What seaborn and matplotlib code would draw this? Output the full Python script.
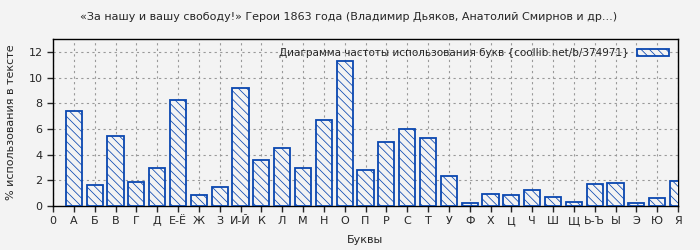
import matplotlib
matplotlib.use("Agg")
import matplotlib.pyplot as plt
import seaborn as sns
import pandas as pd

letters = ["А", "Б", "В", "Г", "Д", "Е-Ё", "Ж", "З", "И-Й", "К", "Л", "М", "Н", "О", "П",
           "Р", "С", "Т", "У", "Ф", "Х", "Ц", "Ч", "Ш", "Щ", "Ь-Ъ", "Ы", "Э", "Ю", "Я"]
values = [7.38, 1.61, 5.43, 1.87, 2.94, 8.23, 0.83, 1.45, 9.19, 3.56, 4.49, 2.94, 6.68, 11.27, 2.78,
          4.96, 5.97, 5.27, 2.31, 0.21, 0.91, 0.83, 1.22, 0.68, 0.29, 1.69, 1.77, 0.21, 0.60, 1.92]
tick_labels = ["0"] + letters
title = "«За нашу и вашу свободу!» Герои 1863 года (Владимир Дьяков, Анатолий Смирнов и др...)"
legend_label = "Диаграмма частоты использования букв {coollib.net/b/374971}"

sns.set_theme(style="white")
plt.rcParams['font.family'] = ['DejaVu Sans']
bg = "#f3f3f3"
blue = "#0a47b0"
plt.rcParams['hatch.linewidth'] = 0.55
hatch = "\\\\\\\\"

df = pd.DataFrame({"pos": list(range(1, len(letters) + 1)), "val": values})

fig = plt.figure(figsize=(7, 2.5), dpi=100, facecolor=bg)
ax = fig.add_axes([53/700, 44/250, 625/700, 167/250])
ax.set_facecolor(bg)

sns.barplot(data=df, x="pos", y="val", native_scale=True, width=0.77, ax=ax,
            color=bg, edgecolor=blue, linewidth=1.3, hatch=hatch, label=legend_label,
            err_kws={"linewidth": 0})
for p in ax.patches:
    p.set_facecolor(bg)
    p.set_edgecolor(blue)
    p.set_hatch(hatch)
    p.set_zorder(3)

ax.set_xlim(0, 30)
ax.set_ylim(0, 13)
ax.set_xticks(range(0, 31))
ax.set_xticklabels(tick_labels, fontsize=8)
ax.set_yticks(range(0, 13, 2))
ax.tick_params(axis="y", labelsize=8, direction="out", length=4, width=1, left=True)
ax.tick_params(axis="x", direction="out", length=4, width=1, bottom=True)
ax.grid(True, color="#999999", linestyle=(0, (2, 3)), linewidth=0.8, zorder=0)
ax.set_axisbelow(True)
for s in ax.spines.values():
    s.set_color("black")
    s.set_linewidth(1.0)

ax.set_xlabel("Буквы", fontsize=8, va="center")
ax.set_ylabel("% использования в тексте", fontsize=8, va="center")
ax.yaxis.set_label_coords(-0.068, 0.5)
ax.xaxis.set_label_coords(0.5, -0.204)
fig.suptitle(title, fontsize=8, x=349/700, y=1 - 17/250, va="center")

leg = ax.legend(loc="upper right", frameon=False, fontsize=7.5, markerfirst=False,
                handlelength=3.0, handleheight=0.6, borderaxespad=0.5, borderpad=0.4,
                handletextpad=0.85)

fig.savefig("out.png", dpi=100, facecolor=bg)
